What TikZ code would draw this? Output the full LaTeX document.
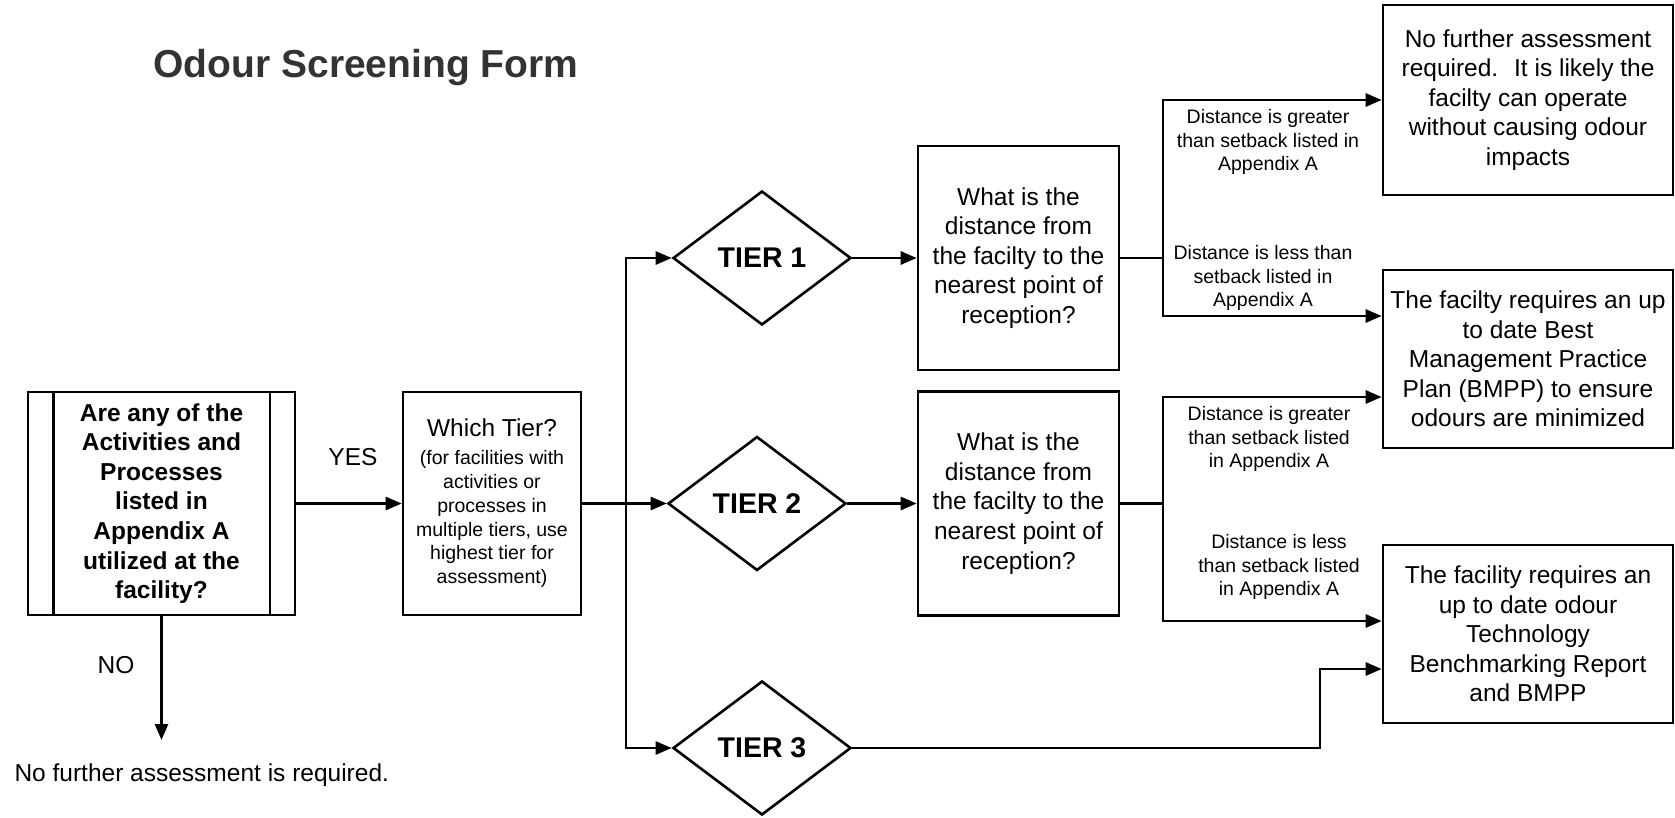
\documentclass[tikz,border=0pt]{standalone}
\usepackage{fontspec}
\setmainfont{Liberation Sans}
\usetikzlibrary{shapes.geometric,arrows.meta}

\newcommand{\bigtxt}{\fontsize{24.5}{29.6}\selectfont}
\newcommand{\smalltxt}{\fontsize{19.5}{23.8}\selectfont}

\tikzset{
  box/.style={draw, line width=2.6pt, inner sep=0pt, align=center, font=\bigtxt},
  tierbox/.style={draw, diamond, line width=2.6pt, minimum width=178pt, minimum height=134pt, inner sep=0pt, font=\fontsize{28.5}{34}\selectfont\bfseries},
  lbl/.style={align=center, font=\smalltxt},
  arr/.style={line width=2.6pt, -{Triangle[length=16pt,width=13pt]}},
  wire/.style={line width=2.6pt},
}

\begin{document}
\begin{tikzpicture}[x=1pt,y=-1pt]
\fill[white] (0,0) rectangle (1675,817);
\useasboundingbox (0,0) rectangle (1675,817);

% title
\node[font=\fontsize{39}{45}\selectfont\bfseries, text=black!80] (title) at (366,67) {Odour Screening Form};

% first question (predefined process box)
\node[box, minimum width=267pt, minimum height=223pt, font=\bigtxt\bfseries] (qa) at (161.5,503.5) {Are any of the\\Activities and\\Processes\\listed in\\Appendix A\\utilized at the\\facility?};
\draw[wire] ([xshift=26.5pt]qa.north west) -- ([xshift=26.5pt]qa.south west);
\draw[wire] ([xshift=-26.5pt]qa.north east) -- ([xshift=-26.5pt]qa.south east);

\node[box, minimum width=178pt, minimum height=223pt, text width=170pt] (tier) at (492,503.5) {\centering\spaceskip=0pt\xspaceskip=0pt{\bigtxt Which Tier?\par}\vspace{4pt}\smalltxt (for facilities with\par activities or\par processes in\par multiple tiers, use\par highest tier for\par assessment)\par};

\node[font=\bigtxt] (yes) at (353,457) {YES};
\node[font=\bigtxt] (no) at (116,665) {NO};
\node[font=\bigtxt, anchor=west] (nofurther) at (11,775) {No further assessment is required.};

% tiers
\node[tierbox] (t1) at (762,258) {TIER 1};
\node[tierbox] (t2) at (757,503.5) {TIER 2};
\node[tierbox] (t3) at (762,748) {TIER 3};

% distance questions
\node[box, minimum width=201pt, minimum height=224pt] (q1) at (1018.5,258) {What is the\\distance from\\the facilty to the\\nearest point of\\reception?};
\node[box, minimum width=201pt, minimum height=224pt] (q2) at (1018.5,503.5) {What is the\\distance from\\the facilty to the\\nearest point of\\reception?};

% outcomes
\node[box, minimum width=290pt, minimum height=190pt] (r1) at (1528,100) {No further assessment\\required.~ It is likely the\\facilty can operate\\without causing odour\\impacts};
\node[box, minimum width=290pt, minimum height=178pt] (r2) at (1528,359) {The facilty requires an up\\to date Best\\Management Practice\\Plan (BMPP) to ensure\\odours are minimized};
\node[box, minimum width=290pt, minimum height=178pt] (r3) at (1528,634) {The facility requires an\\up to date odour\\Technology\\Benchmarking Report\\and BMPP};

% branch labels
\node[lbl] (gt1) at (1268,142) {Distance is greater\\than setback listed in\\Appendix A};
\node[lbl] (lt1) at (1263,278) {Distance is less than\\setback listed in\\Appendix A};
\node[lbl] (gt2) at (1269,439) {Distance is greater\\than setback listed\\in Appendix A};
\node[lbl] (lt2) at (1279,567) {Distance is less\\than setback listed\\in Appendix A};

% connectors
\coordinate (noend) at (161.5,740);
\coordinate (trunk) at (626,503.5);
\coordinate (b1) at (1163,258);
\coordinate (b1hi) at (1163,100);
\coordinate (b1lo) at (1163,316);
\coordinate (b2) at (1163,503.5);
\coordinate (b2hi) at (1163,397);
\coordinate (b2lo) at (1163,621);
\coordinate (k3) at (1320,669);

\draw[arr] (qa.east) -- (tier.west);
\draw[arr] (qa.south) -- (noend);
\draw[arr] (tier.east) -- (t2.west);
\draw[arr] (trunk) |- (t1.west);
\draw[arr] (trunk) |- (t3.west);
\draw[arr] (t1.east) -- (q1.west);
\draw[arr] (t2.east) -- (q2.west);

\draw[wire] (q1.east) -- (b1);
\draw[arr] (b1) -- (b1hi) -- (r1.west);
\draw[arr] (b1) -- (b1lo) -- (b1lo -| r2.west);
\draw[wire] (q2.east) -- (b2);
\draw[arr] (b2) -- (b2hi) -- (b2hi -| r2.west);
\draw[arr] (b2) -- (b2lo) -- (b2lo -| r3.west);
\draw[arr] (t3.east) -| (k3) -- (k3 -| r3.west);
\end{tikzpicture}
\end{document}
